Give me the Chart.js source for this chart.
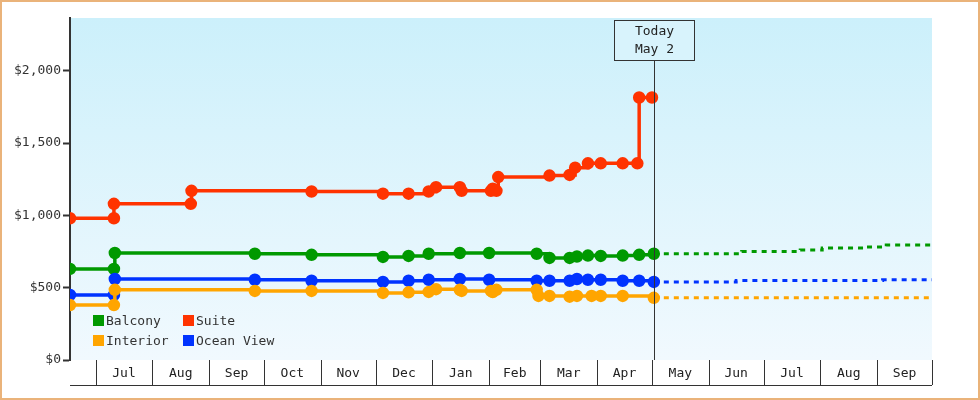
<!DOCTYPE html>
<html>
<head>
<meta charset="utf-8">
<script src="https://cdn.jsdelivr.net/npm/chart.js@4"></script>
<style>
  html, body { margin: 0; padding: 0; background: #fff; }
  #wrap { position: relative; width: 980px; height: 400px; box-sizing: border-box; border: 2px solid #eab37a; }
  canvas { position: absolute; left: -2px; top: -2px; }
  .legend { position: absolute; font: 13px "DejaVu Sans Mono", monospace; color: #333; }
  .legend span.sw { display: inline-block; width: 11px; height: 11px; margin-right: 2px; vertical-align: -1px; }
</style>
</head>
<body>
<div id="wrap">
  <canvas id="chart" width="980" height="400"></canvas>
  <div class="legend" style="left:91px;top:311px"><span class="sw" style="background:#009900"></span>Balcony</div>
  <div class="legend" style="left:181px;top:311px"><span class="sw" style="background:#ff3300"></span>Suite</div>
  <div class="legend" style="left:91px;top:331px"><span class="sw" style="background:#ffa500"></span>Interior</div>
  <div class="legend" style="left:181px;top:331px"><span class="sw" style="background:#0033ff"></span>Ocean View</div>
</div>
<script>
// days counted from Jul 1 of the first year
const monthStarts = [0, 31, 62, 92, 123, 153, 184, 215, 243, 274, 304, 335, 365, 396, 427, 457];
const monthLabels = ["Jul", "Aug", "Sep", "Oct", "Nov", "Dec", "Jan", "Feb", "Mar", "Apr", "May", "Jun", "Jul", "Aug", "Sep"];
const yTicks = [0, 500, 1000, 1500, 2000];
const today = 305;

const suite = [[-14,980],[10,980],[10,1080],[52,1080],[52.4,1170],[118,1165],[157,1150],[171,1150],[182,1165],[186,1195],[199,1195],[200,1170],[216,1170],[217,1185],[219,1170],[220,1265],[248,1275],[259,1280],[262,1330],[269,1360],[276,1360],[288,1360],[296,1360],[297,1815],[304,1815]];
const balcony = [[-14,630],[10,630],[10.5,740],[87,735],[118,727],[157,713],[171,720],[182,735],[199,740],[215,740],[241,735],[248,706],[259,706],[263,716],[269,722],[276,720],[288,722],[297,727],[305,735]];
const oceanView = [[-14,450],[10,450],[10.5,560],[87,555],[118,548],[157,540],[171,548],[182,555],[199,560],[215,555],[241,548],[248,548],[259,548],[263,560],[269,555],[276,555],[288,548],[297,548],[305,540]];
const interior = [[-14,380],[10,380],[10.5,485],[87,478],[118,478],[157,464],[171,468],[182,471],[186,490],[199,485],[200,478],[216,478],[217,470],[219,485],[241,485],[242,443],[248,443],[259,438],[263,443],[271,443],[276,443],[288,443],[305,430]];

const balconyProj = [[305,735],[340,735],[353,750],[385,760],[397,775],[420,782],[432,795],[457,810]];
const oceanProj = [[305,540],[340,540],[350,550],[420,550],[430,555],[457,555]];
const interiorProj = [[305,430],[457,430]];

const toXY = arr => arr.map(p => ({ x: p[0], y: p[1] }));

function line(label, data, color) {
  return { label, data: toXY(data), borderColor: color, backgroundColor: color, borderWidth: 3.5,
    stepped: true, pointStyle: "circle", pointRadius: 4.5, pointHoverRadius: 4.5 };
}
function proj(data, color) {
  return { label: "", data: toXY(data), borderColor: color, borderWidth: 3, borderDash: [5, 5],
    stepped: true, pointRadius: 0 };
}

const mono = '"DejaVu Sans Mono", monospace';

const decor = {
  id: "decor",
  beforeDraw(chart) {
    const { ctx, chartArea: a } = chart;
    const g = ctx.createLinearGradient(0, a.top, 0, a.bottom);
    g.addColorStop(0, "#ccf0fb");
    g.addColorStop(1, "#f1f9fe");
    ctx.save();
    ctx.fillStyle = g;
    ctx.fillRect(a.left, a.top, a.right - a.left, a.bottom - a.top);
    ctx.restore();
  },
  afterDraw(chart) {
    const { ctx, chartArea: a } = chart;
    const xs = chart.scales.x;
    ctx.save();
    // x band
    ctx.strokeStyle = "#333";
    ctx.lineWidth = 1;
    ctx.beginPath();
    ctx.moveTo(a.left, 385.5); ctx.lineTo(a.right, 385.5);
    monthStarts.forEach(d => {
      const x = Math.round(xs.getPixelForValue(d)) + 0.5;
      ctx.moveTo(x, a.bottom); ctx.lineTo(x, 385);
    });
    ctx.stroke();
    ctx.fillStyle = "#222";
    ctx.font = "13px " + mono;
    ctx.textAlign = "center";
    ctx.textBaseline = "middle";
    monthLabels.forEach((m, i) => {
      const x = (xs.getPixelForValue(monthStarts[i]) + xs.getPixelForValue(monthStarts[i + 1])) / 2;
      ctx.fillText(m, x, 374);
    });
    // today marker
    const tx = Math.round(xs.getPixelForValue(today)) + 0.5;
    ctx.beginPath();
    ctx.moveTo(tx, 60); ctx.lineTo(tx, a.bottom);
    ctx.stroke();
    ctx.fillStyle = "#d8f3fc";
    ctx.fillRect(tx - 40, 20.5, 80, 40);
    ctx.strokeRect(tx - 40, 20.5, 80, 40);
    ctx.fillStyle = "#222";
    ctx.fillText("Today", tx, 32);
    ctx.fillText("May 2", tx, 50);
    ctx.restore();
  }
};

new Chart(document.getElementById("chart"), {
  type: "line",
  data: {
    datasets: [
      proj(balconyProj, "#009900"),
      proj(oceanProj, "#0033ff"),
      proj(interiorProj, "#ffa500"),
      line("Interior", interior, "#ffa500"),
      line("Ocean View", oceanView, "#0033ff"),
      line("Balcony", balcony, "#009900"),
      line("Suite", suite, "#ff3300")
    ]
  },
  options: {
    responsive: false,
    animation: false,
    layout: { padding: { left: 0, right: 48, top: 18, bottom: 40 } },
    plugins: { legend: { display: false }, tooltip: { enabled: false } },
    scales: {
      x: { type: "linear", min: -14, max: 457, display: false },
      y: {
        min: 0, max: 2365,
        afterFit(s) { s.width = 70; },
        afterBuildTicks(s) { s.ticks = yTicks.map(v => ({ value: v })); },
        border: { color: "#333", width: 2 },
        grid: { drawOnChartArea: false, color: "#333", tickLength: 7, tickWidth: 2 },
        ticks: {
          color: "#333", padding: 2, autoSkip: false,
          font: { family: mono, size: 13 },
          callback: v => "$" + v.toLocaleString("en-US")
        }
      }
    }
  },
  plugins: [decor]
});
</script>
</body>
</html>
